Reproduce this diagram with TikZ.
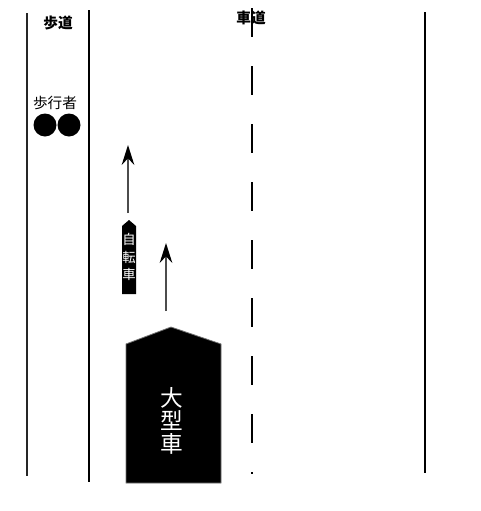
\documentclass[tikz,border=0pt]{standalone}
\usepackage{fontspec}
\newfontfamily\jp{Noto Sans CJK JP}
\usetikzlibrary{arrows.meta}
\tikzset{
	lane/.style={line width=1.5pt},
	move/.style={draw=black!70,line width=1.1pt,-{Stealth[length=15pt,width=9.5pt,inset=5pt,color=black]}},
	vtext/.style={text=white,align=center,inner sep=0pt}
}
\begin{document}
\begin{tikzpicture}[x=0.75pt,y=-0.75pt]
	\useasboundingbox (0,0) rectangle (480,511);
	% lane lines
	\draw[line width=0.8pt,black!85] (27,13) -- (27,476);
	\draw[lane] (89,10) -- (89,482);
	\draw[lane] (425,12) -- (425,473);
	\draw[lane,dash pattern=on 21.75pt off 21.75pt] (252,8) -- (252,474);
	\node[font=\jp\bfseries\fontsize{11}{12}\selectfont] (hodo) at (58,23) {歩道};
	\node[font=\jp\bfseries\fontsize{11}{12}\selectfont] (shado) at (251,18) {車道};
	% pedestrians
	\node[font=\jp\fontsize{11}{12}\selectfont] (hokosha) at (55,103) {歩行者};
	\fill (45,125) circle (11.5);
	\fill (69,125) circle (11.5);
	% bicycle
	\fill (122,294) -- (122,226) -- (129,220) -- (136,226) -- (136,294) -- cycle;
	\node[vtext,font=\jp\fontsize{10}{13.3}\selectfont] (jitensha) at (129,257) {自\\転\\車};
	% truck
	\filldraw[draw=black!55,line width=0.6pt] (126,483) -- (126,344) -- (171,327) -- (221,344) -- (221,483) -- cycle;
	\node[vtext,font=\jp\fontsize{17}{17.2}\selectfont] (ogata) at (172,421) {大\\型\\車};
	% arrows
	\coordinate (bikefrom) at (128,213);
	\coordinate (biketo) at (128,145);
	\coordinate (truckfrom) at (166,311);
	\coordinate (truckto) at (166,243);
	\draw[move] (bikefrom) -- (biketo);
	\draw[move] (truckfrom) -- (truckto);
\end{tikzpicture}
\end{document}
